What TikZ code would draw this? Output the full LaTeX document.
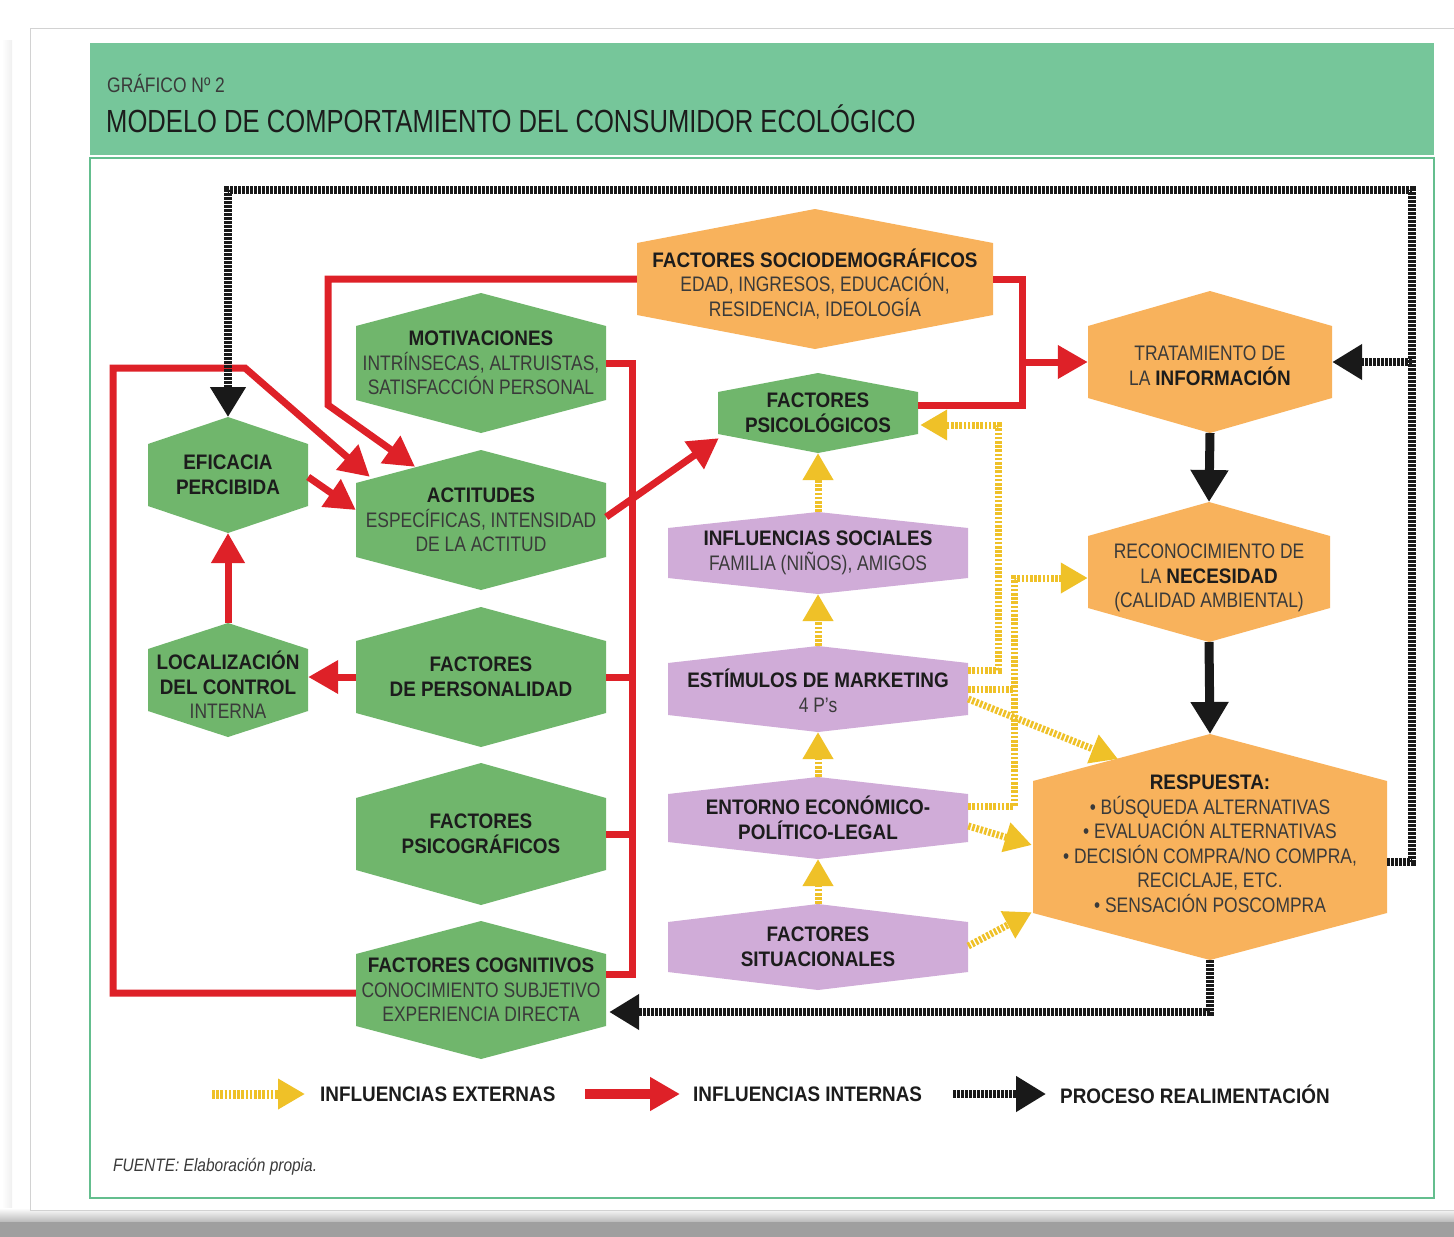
\documentclass[tikz,border=0pt]{standalone}
\usepackage{fontspec}
\setmainfont{Liberation Sans}
\newfontfamily\rg{Liberation Sans}[FakeStretch=0.83]
\newfontfamily\bd{Liberation Sans}[FakeStretch=0.9]
\newfontfamily\ttlfont{Liberation Sans}[FakeStretch=0.8]
\newfontfamily\subfont{Liberation Sans}[FakeStretch=0.83]
\newfontfamily\srcfont{Liberation Sans}[FakeStretch=0.86]
\usetikzlibrary{arrows.meta,calc}

\definecolor{hexgreen}{RGB}{112,182,108}
\definecolor{hexorange}{RGB}{248,178,92}
\definecolor{hexpurple}{RGB}{208,172,216}
\definecolor{headgreen}{RGB}{118,198,154}
\definecolor{framegreen}{RGB}{100,190,142}
\definecolor{intred}{RGB}{222,33,40}
\definecolor{extyellow}{RGB}{239,193,40}
\definecolor{fbblack}{RGB}{25,25,25}
\definecolor{txtgray}{RGB}{58,58,58}
\definecolor{txtdark}{RGB}{28,28,28}

\newcommand\B[1]{{\bd\bfseries\color{txtdark}#1}}

% hexagon with pointed top and bottom; the node is the straight-sided body
% #1 text drop, #2 name, #3 cx, #4 cy, #5 half width, #6 half side, #7 apex rise, #8 fill, #9 text
\newcommand\hexnode[9][0]{%
  \fill[#8] ({#3-#5},{#4-#6}) -- ({#3},{#4-#6-#7}) -- ({#3+#5},{#4-#6})
     -- ({#3+#5},{#4+#6}) -- ({#3},{#4+#6+#7}) -- ({#3-#5},{#4+#6}) -- cycle;
  \node[hexbody, minimum width={2*#5pt}, minimum height={2*#6pt}] (#2) at (#3,#4) {};
  \node[hexbox] (#2-txt) at (#3,{#4+#1}) {#9};
  \coordinate (#2-top) at (#3,{#4-#6-#7});
  \coordinate (#2-bot) at (#3,{#4+#6+#7});
}

\tikzset{
  hexbody/.style={inner sep=0pt, draw=none},
  hexbox/.style={inner sep=0pt, align=center, text=txtgray,
    font=\rg\fontsize{21}{24.5}\selectfont},
  rline/.style={draw=intred, line width=7pt},
  rarr/.style={rline, -{Triangle[length=30pt,width=32pt]}},
  karr/.style={draw=fbblack, line width=9pt, -{Triangle[length=32pt,width=36pt]}},
  kdash/.style={draw=fbblack, line width=8pt, dash pattern=on 2.6pt off 1.4pt},
  kdarr/.style={kdash, -{Triangle[length=30pt,width=34pt]}},
  yline/.style={draw=extyellow, line width=7pt, dash pattern=on 2.6pt off 1.6pt},
  yarr/.style={yline, -{Triangle[length=27pt,width=29pt]}},
  legtxt/.style={inner sep=0pt, anchor=west, text=txtdark,
    font=\bd\bfseries\fontsize{21}{24}\selectfont},
}

\begin{document}
\begin{tikzpicture}[x=1pt,y=-1pt]
\useasboundingbox (0,0) rectangle (1454,1237);
\fill[white] (0,0) rectangle (1454,1237);

% paper card and its shadow
\shade[left color=white, right color=gray!12] (2,40) rectangle (12,1212);
\shade[top color=white, bottom color=gray!55] (0,1208) rectangle (1454,1222);
\shade[left color=gray!75, middle color=gray!40, right color=gray!75] (0,1222) rectangle (1454,1237);
\filldraw[fill=white, draw=gray!35, line width=1pt] (30,28) rectangle (1470,1210);

% header band and frame
\fill[headgreen] (90,43) rectangle (1434,155);
\draw[framegreen, line width=1.6pt] (90,158) rectangle (1434,1198);
\node[anchor=west, inner sep=0pt, text=txtgray, font=\subfont\fontsize{21}{24}\selectfont]
  (kicker) at (107,83) {GRÁFICO Nº 2};
\node[anchor=west, inner sep=0pt, text=txtdark, font=\ttlfont\fontsize{32}{36}\selectfont]
  (title) at (106,119) {MODELO DE COMPORTAMIENTO DEL CONSUMIDOR ECOLÓGICO};

% ---------- hexagons ----------
\hexnode[5]{sd}{815}{279}{178}{36}{34}{hexorange}{\B{FACTORES SOCIODEMOGRÁFICOS}\\EDAD, INGRESOS, EDUCACIÓN,\\RESIDENCIA, IDEOLOGÍA}
\hexnode{mot}{481}{363}{125}{37}{33}{hexgreen}{\B{MOTIVACIONES}\\INTRÍNSECAS, ALTRUISTAS,\\SATISFACCIÓN PERSONAL}
\hexnode{act}{481}{520}{125}{37}{33}{hexgreen}{\B{ACTITUDES}\\ESPECÍFICAS, INTENSIDAD\\DE LA ACTITUD}
\hexnode{pers}{481}{677}{125}{36}{34}{hexgreen}{\B{FACTORES}\\\B{DE PERSONALIDAD}}
\hexnode{psg}{481}{834}{125}{36}{35}{hexgreen}{\B{FACTORES}\\\B{PSICOGRÁFICOS}}
\hexnode{cog}{481}{990}{125}{36}{33}{hexgreen}{\B{FACTORES COGNITIVOS}\\CONOCIMIENTO SUBJETIVO\\EXPERIENCIA DIRECTA}
\hexnode{efi}{228}{475}{80}{31}{27}{hexgreen}{\B{EFICACIA}\\\B{PERCIBIDA}}
\hexnode[5]{loc}{228}{680}{80}{31}{26}{hexgreen}{\B{LOCALIZACIÓN}\\\B{DEL CONTROL}\\INTERNA}
\hexnode{psl}{818}{413}{100}{21}{19}{hexgreen}{\B{FACTORES}\\\B{PSICOLÓGICOS}}
\hexnode{soc}{818}{553}{150}{25}{16}{hexpurple}{\B{INFLUENCIAS SOCIALES}\\FAMILIA (NIÑOS), AMIGOS}
\hexnode[2]{est}{818}{689}{150}{26}{17}{hexpurple}{\B{ESTÍMULOS DE MARKETING}\\4 P’s}
\hexnode{ent}{818}{818}{150}{24}{17}{hexpurple}{\B{ENTORNO ECONÓMICO-}\\\B{POLÍTICO-LEGAL}}
\hexnode{sit}{818}{947}{150}{25}{18}{hexpurple}{\B{FACTORES}\\\B{SITUACIONALES}}
\hexnode[4]{tra}{1210}{362}{122}{36}{35}{hexorange}{TRATAMIENTO DE\\LA \B{INFORMACIÓN}}
\hexnode[6]{rec}{1209}{572}{121}{36}{34}{hexorange}{RECONOCIMIENTO DE\\LA \B{NECESIDAD}\\(CALIDAD AMBIENTAL)}
\hexnode[-3]{res}{1210}{847}{177}{66}{47}{hexorange}{\B{RESPUESTA:}\\• BÚSQUEDA ALTERNATIVAS\\• EVALUACIÓN ALTERNATIVAS\\• DECISIÓN COMPRA/NO COMPRA,\\RECICLAJE, ETC.\\• SENSACIÓN POSCOMPRA}

% ---------- internal influences ----------
\coordinate (jr) at (1022,362);
\coordinate (bus) at (632,363);
\draw[rarr] (sd.west) -| (328,405) -- ($(act.north)+(-66,-16)$);
\draw[rline] (sd.east) -| (1022,405) -- ($(psl.east)+(0,-8)$);
\draw[rarr] (jr) -- (tra.west);
\draw[rline] (mot.east) -- (bus) -- (632,974) -- ($(cog.east)+(0,-16)$);
\draw[rline] (pers.east) -- (pers.east -| bus);
\draw[rline] (psg.east) -- (psg.east -| bus);
\draw[rarr] ($(act.east)+(0,-3)$) -- ($(psl.south west)+(1,4)$);
\draw[rarr] ($(cog.west)+(0,3)$) -| (113,368) -- (245,368) -- ($(act.north west)+(14,-6)$);
\draw[rarr] ($(efi.east)+(0,2)$) -- ($(act.west)+(0,-10)$);
\draw[rarr] (loc-top) -- (efi-bot);
\draw[rarr] (pers.west) -- (pers.west -| loc.east);

% ---------- process ----------
\draw[karr] (tra-bot) -- (rec-top);
\draw[karr] (rec-bot) -- (res-top);

% ---------- feedback ----------
\coordinate (fb) at (1412,362);
\draw[kdarr] ($(res.east)+(0,15)$) -- (1412,862) -- (1412,190) -- (228,190) -- (efi-top);
\draw[kdarr] (fb) -- (tra.east);
\draw[kdarr] (res-bot) |- ($(cog.east)+(3,22)$);

% ---------- external influences ----------
\coordinate (yv) at (1014,578);
\draw[yarr] (soc-top) -- (psl-bot);
\draw[yarr] (est-top) -- (soc-bot);
\draw[yarr] (ent-top) -- (est-bot);
\draw[yarr] (sit-top) -- (ent-bot);
\draw[yarr] ($(est.east)+(0,-19)$) -| (998,425) -- ($(psl.east)+(2,12)$);
\draw[yarr] ($(ent.east)+(0,-12)$) -| (yv) -- ($(rec.west)+(0,6)$);
\draw[yline] (est.east) -- (est.east -| yv);
\draw[yarr] ($(est.east)+(0,10)$) -- ($(res-top)+(-92,25)$);
\draw[yarr] ($(ent.east)+(0,8)$) -- ($(res.west)+(-1,-2)$);
\draw[yarr] ($(sit.east)+(0,-1)$) -- ($(res.south west)+(-1,-1)$);

% ---------- legend ----------
\node[legtxt] (lgext) at (320,1094) {INFLUENCIAS EXTERNAS};
\node[legtxt] (lgint) at (693,1094) {INFLUENCIAS INTERNAS};
\node[legtxt] (lgfb) at (1060,1094) {PROCESO REALIMENTACIÓN};
\coordinate (lgexts) at (212,1094);
\coordinate (lgints) at (585,1094);
\coordinate (lgfbs) at (953,1094);
\draw[yarr, line width=9pt] (lgexts) -- ($(lgext.west)+(-15,0)$);
\draw[rarr, line width=10pt] (lgints) -- ($(lgint.west)+(-13,0)$);
\draw[kdarr] (lgfbs) -- ($(lgfb.west)+(-14,0)$);

\node[anchor=west, inner sep=0pt, text=txtgray, font=\srcfont\itshape\fontsize{18}{20}\selectfont]
  (src) at (113,1167) {FUENTE: Elaboración propia.};
\end{tikzpicture}
\end{document}
